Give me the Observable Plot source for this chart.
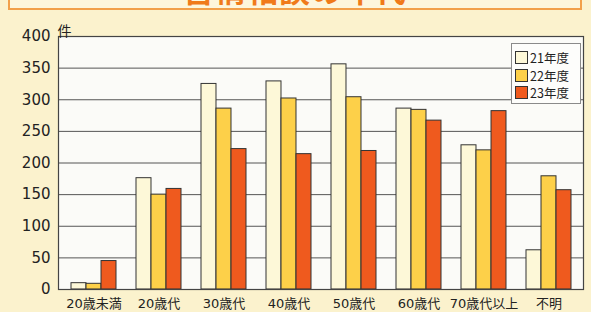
<!DOCTYPE html>
<html>
<head>
<meta charset="utf-8">
<script src="https://cdn.jsdelivr.net/npm/d3@7"></script>
<script src="https://cdn.jsdelivr.net/npm/@observablehq/plot@0.6"></script>
<style>
  html, body { margin: 0; padding: 0; background: #fbf2cd; }
  #wrap { position: relative; width: 591px; height: 312px; overflow: hidden; font-family: "DejaVu Sans", "Noto Sans CJK JP", sans-serif; }
  #title { position: absolute; left: 8px; top: -32px; width: 574px; height: 42px; border: 2px solid #f2a04a; background: #fdf6dc; box-sizing: border-box; overflow: hidden; text-align: center; }
  #title span { position: absolute; left: 0; right: 0; bottom: 4px; font-family: "Noto Sans CJK JP", sans-serif; font-weight: bold; font-size: 31px; color: #f07a1a; line-height: 1; letter-spacing: 1px; }
  #chart { position: absolute; left: 0; top: 0; }
  #legend { position: absolute; left: 511px; top: 43px; width: 70px; height: 61px; background: #fdfdfb; border: 1px solid #8a8a8a; box-sizing: border-box; font-family: "Noto Sans CJK JP", sans-serif; font-size: 12.5px; color: #222; }
  .item { position: absolute; left: 3px; height: 14px; line-height: 14px; white-space: nowrap; }
  .sw { display: inline-block; width: 13px; height: 13px; border: 1px solid #333; box-sizing: border-box; vertical-align: top; margin-right: 2px; }
</style>
</head>
<body>
<div id="wrap">
  <div id="title"><span id="titleText"></span></div>
  <div id="chart"></div>
  <div id="legend"></div>
</div>
<script>
const titleText = "苦情相談の年代";
const unitLabel = "件";
const ages = ["20歳未満", "20歳代", "30歳代", "40歳代", "50歳代", "60歳代", "70歳代以上", "不明"];
const years = ["21年度", "22年度", "23年度"];
const values21 = [10, 176, 325, 329, 356, 286, 228, 62];
const values22 = [9, 150, 286, 302, 304, 284, 220, 179];
const values23 = [45, 159, 222, 214, 219, 267, 282, 157];
const yTicks = [0, 50, 100, 150, 200, 250, 300, 350, 400];
const colors = ["#fdf8d8", "#fdd049", "#ef5a1e"];

const series = [values21, values22, values23];
const rows = [];
years.forEach((yr, k) => ages.forEach((a, i) => rows.push({age: a, year: yr, value: series[k][i]})));

document.getElementById("titleText").textContent = titleText;

const W = 591, H = 312, mL = 58, mR = 8, mT = 36, mB = 23;
const padInner = 0.314;
const step = (W - mL - mR) / ages.length;
const third = step * (1 - padInner) / years.length;

const barMarks = years.map((yr, k) => Plot.barY(rows.filter(d => d.year === yr), {
  x: "age", y: "value",
  fill: colors[k], stroke: "#333", strokeWidth: 1,
  insetLeft: k * third, insetRight: (years.length - 1 - k) * third
}));

const chart = Plot.plot({
  width: W, height: H,
  marginLeft: mL, marginRight: mR, marginTop: mT, marginBottom: mB,
  style: { background: "transparent", fontFamily: "'DejaVu Sans', 'Noto Sans CJK JP', sans-serif", color: "#222" },
  x: { domain: ages, paddingInner: padInner, paddingOuter: padInner / 2, axis: null, label: null },
  y: { domain: [0, 400], axis: null, label: null },
  marks: [
    Plot.frame({ fill: "#fbfbf8" }),
    Plot.gridY(yTicks, { stroke: "#555", strokeOpacity: 1, strokeWidth: 1 }),
    ...barMarks,
    Plot.frame({ stroke: "#444", strokeWidth: 1.2 }),
    Plot.axisY(yTicks, { tickSize: 0, tickPadding: 8, fontSize: 15, fill: "#222", label: null }),
    Plot.axisX({ tickSize: 0, tickPadding: 9, fontSize: 13, fill: "#222", label: null }),
    Plot.text([unitLabel], { frameAnchor: "top-left", dx: -1, dy: -10, textAnchor: "start", fontSize: 14, fill: "#222" })
  ]
});
document.getElementById("chart").appendChild(chart);

const legend = document.getElementById("legend");
years.forEach((yr, k) => {
  const it = document.createElement("div");
  it.className = "item";
  it.style.top = (7 + k * 17.5) + "px";
  const sw = document.createElement("span");
  sw.className = "sw";
  sw.style.background = colors[k];
  it.appendChild(sw);
  it.appendChild(document.createTextNode(yr));
  legend.appendChild(it);
});
</script>
</body>
</html>
